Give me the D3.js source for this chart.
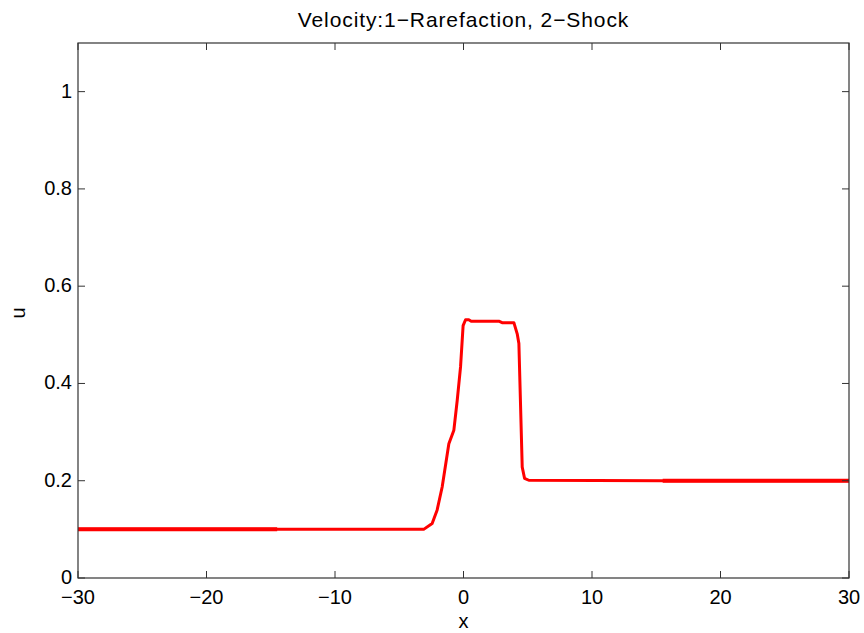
<!DOCTYPE html>
<html>
<head>
<meta charset="utf-8">
<script src="https://cdn.jsdelivr.net/npm/d3@7"></script>
<style>
  body { margin: 0; background: #fff; }
  text { font-family: "Liberation Sans", Arial, sans-serif; fill: #000; }
</style>
</head>
<body>
<div id="chart"></div>
<script>
var w = 864, h = 633;
var margin = {left: 78, right: 15, top: 43, bottom: 55};

var title = "Velocity:1\u2212Rarefaction, 2\u2212Shock";
var xTicks = [-30, -20, -10, 0, 10, 20, 30];
var yTicks = [0, 0.2, 0.4, 0.6, 0.8, 1];

// solution sampled off the figure
var xs = [-30, -14.5, -3.1, -2.44, -2.05, -1.66, -1.14, -0.75, -0.49, -0.23, -0.03, 0.16, 0.41, 0.6, 2.75, 3.0, 3.92, 4.18, 4.31, 4.57, 4.75, 5.08, 15.5, 30];
var us = [0.1, 0.1, 0.1, 0.112, 0.14, 0.187, 0.276, 0.304, 0.365, 0.434, 0.519, 0.531, 0.531, 0.528, 0.528, 0.525, 0.525, 0.502, 0.482, 0.228, 0.205, 0.201, 0.2, 0.2];

var svg = d3.select("#chart").append("svg").attr("width", w).attr("height", h);

var x = d3.scaleLinear().domain([-30, 30]).range([margin.left, w - margin.right]);
var y = d3.scaleLinear().domain([0, 1.1]).range([h - margin.bottom, margin.top]);

var pts = xs.map(function(d, i) { return [d, us[i]]; });
var line = d3.line().x(function(d) { return x(d[0]); }).y(function(d) { return y(d[1]); });

svg.append("path").datum(pts).attr("d", line)
  .attr("fill", "none").attr("stroke", "#ff0000").attr("stroke-width", 3)
  .attr("stroke-linejoin", "round");
// outer flat parts are drawn heavier in the original
[pts.filter(function(d) { return d[0] <= -14.5; }), pts.filter(function(d) { return d[0] >= 15.5; })]
  .forEach(function(seg) {
    svg.append("path").datum(seg).attr("d", line)
      .attr("fill", "none").attr("stroke", "#ff0000").attr("stroke-width", 4);
  });

var ax = svg.append("g").attr("stroke", "#333").attr("fill", "none");
ax.append("rect").attr("x", x(-30)).attr("y", y(1.1))
  .attr("width", x(30) - x(-30)).attr("height", y(0) - y(1.1)).attr("stroke-width", 1.2);

var tl = 7;
xTicks.forEach(function(t) {
  ax.append("line").attr("x1", x(t)).attr("x2", x(t)).attr("y1", y(0)).attr("y2", y(0) - tl);
  ax.append("line").attr("x1", x(t)).attr("x2", x(t)).attr("y1", y(1.1)).attr("y2", y(1.1) + tl);
});
yTicks.forEach(function(t) {
  ax.append("line").attr("y1", y(t)).attr("y2", y(t)).attr("x1", x(-30)).attr("x2", x(-30) + tl);
  ax.append("line").attr("y1", y(t)).attr("y2", y(t)).attr("x1", x(30)).attr("x2", x(30) - tl);
});

svg.selectAll(".xl").data(xTicks).enter().append("text")
  .attr("x", function(d) { return x(d); }).attr("y", y(0) + 26)
  .attr("text-anchor", "middle").style("font-size", "20px")
  .text(function(d) { return d < 0 ? "\u2212" + Math.abs(d) : d; });

svg.selectAll(".yl").data(yTicks).enter().append("text")
  .attr("x", x(-30) - 6).attr("y", function(d) { return y(d) + 6; })
  .attr("text-anchor", "end").style("font-size", "20px")
  .text(function(d) { return d; });

svg.append("text").attr("x", x(0)).attr("y", 27).attr("text-anchor", "middle")
  .style("font-size", "21px").style("letter-spacing", "0.9px").text(title);
svg.append("text").attr("x", x(0)).attr("y", 628).attr("text-anchor", "middle")
  .style("font-size", "20px").text("x");
svg.append("text").attr("transform", "translate(25," + y(0.545) + ") rotate(-90)")
  .attr("text-anchor", "middle").style("font-size", "20px").text("u");
</script>
</body>
</html>
